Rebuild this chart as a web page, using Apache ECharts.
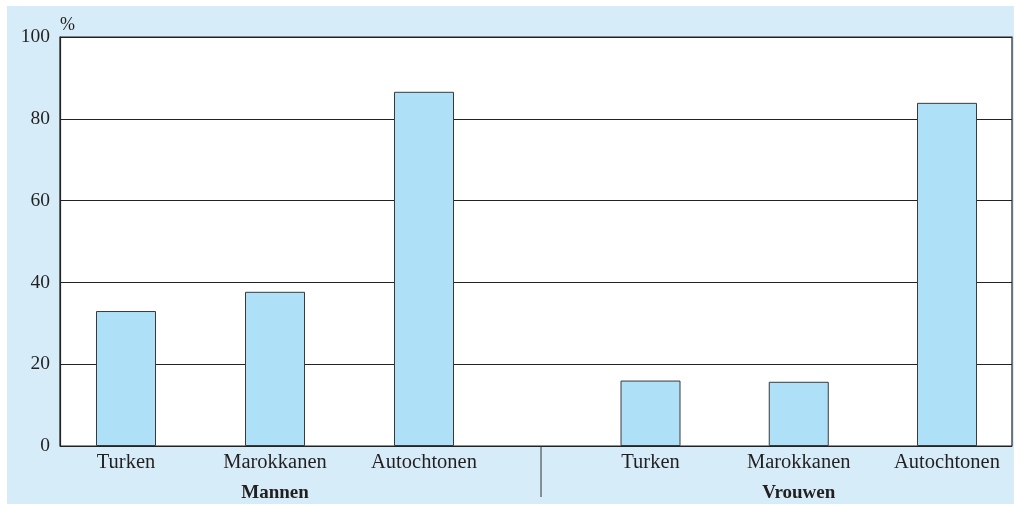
<!DOCTYPE html>
<html>
<head>
<meta charset="utf-8">
<script src="https://cdn.jsdelivr.net/npm/echarts@6/dist/echarts.min.js"></script>
<style>
html,body{margin:0;padding:0;background:#fff;}
#c{width:1014px;height:506px;}
</style>
</head>
<body>
<div id="c"></div>
<script>
var categories = ['Turken', 'Marokkanen', 'Autochtonen'];
var groups = ['Mannen', 'Vrouwen'];
var mannen = [33.0, 37.7, 86.6];
var vrouwen = [16.0, 15.7, 83.9];
var yTicks = [0, 20, 40, 60, 80, 100];

var FONT = 'Liberation Serif';
var FS = 20.5;
var TXT = '#231f20';

var chart = echarts.init(document.getElementById('c'));

var barStyle = {color: '#aee0f7', borderColor: '#3a3a3a', borderWidth: 1};

function catAxis(grid) {
  return {gridIndex: grid, type: 'category', data: categories, boundaryGap: false,
    axisLine: {show: false}, axisTick: {show: false}, splitLine: {show: false},
    axisLabel: {fontFamily: FONT, fontSize: FS, color: TXT, margin: 6}};
}
function groupAxis(grid, name) {
  return {gridIndex: grid, type: 'category', data: [name], boundaryGap: true, position: 'bottom',
    axisLine: {show: false}, axisTick: {show: false}, splitLine: {show: false},
    axisLabel: {fontFamily: FONT, fontSize: 19, fontWeight: 'bold', color: TXT, margin: 38}};
}

chart.setOption({
  animation: false,
  backgroundColor: '#fff',
  graphic: [
    {type: 'rect', z: -10, silent: true, shape: {x: 7, y: 6, width: 1007, height: 498}, style: {fill: '#d6edf9'}},
    {type: 'line', z: 10, silent: true, shape: {x1: 541, y1: 446, x2: 541, y2: 497}, style: {stroke: '#333', lineWidth: 1}}
  ],
  grid: [
    {left: 60, top: 37, right: 2, bottom: 60, show: true, backgroundColor: '#fff', borderColor: '#222', borderWidth: 1.2, z: 0},
    {left: 126, top: 37, width: 298, bottom: 60},
    {left: 650.5, top: 37, width: 296.5, bottom: 60}
  ],
  xAxis: [
    {gridIndex: 0, type: 'value', show: false, min: 0, max: 1},
    catAxis(1),
    catAxis(2),
    groupAxis(1, groups[0]),
    groupAxis(2, groups[1])
  ],
  yAxis: [
    {gridIndex: 0, type: 'value', min: yTicks[0], max: yTicks[yTicks.length - 1], interval: 20,
      name: '%', nameLocation: 'end', nameGap: 3,
      nameTextStyle: {fontFamily: FONT, fontSize: 18, color: TXT, align: 'left'},
      axisLine: {show: true, lineStyle: {color: '#222', width: 1.2}},
      axisTick: {show: false},
      splitLine: {show: true, lineStyle: {color: '#222', width: 1}},
      axisLabel: {fontFamily: FONT, fontSize: 19.5, color: TXT, margin: 10, padding: [4, 0, 0, 0]}},
    {gridIndex: 1, type: 'value', min: 0, max: 100, show: false},
    {gridIndex: 2, type: 'value', min: 0, max: 100, show: false}
  ],
  series: [
    {type: 'bar', xAxisIndex: 1, yAxisIndex: 1, data: mannen, barWidth: 60, itemStyle: barStyle, z: 5},
    {type: 'bar', xAxisIndex: 2, yAxisIndex: 2, data: vrouwen, barWidth: 60, itemStyle: barStyle, z: 5}
  ]
});
</script>
</body>
</html>
